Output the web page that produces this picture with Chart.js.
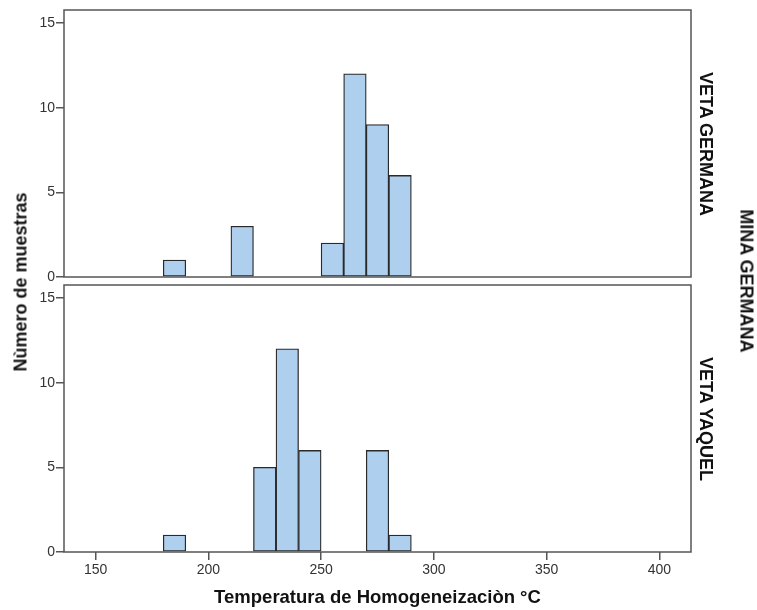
<!DOCTYPE html>
<html>
<head>
<meta charset="utf-8">
<script src="https://cdn.jsdelivr.net/npm/chart.js@4/dist/chart.umd.min.js"></script>
<style>
  html, body { margin: 0; padding: 0; background: #fff; }
  #wrap { position: relative; width: 757px; height: 610px; overflow: hidden; font-family: "Liberation Sans", Arial, sans-serif; }
  canvas { position: absolute; left: 0; }
  .lbl { position: absolute; white-space: nowrap; font-weight: bold; color: #111; transform-origin: center center; }
</style>
</head>
<body>
<div id="wrap">
  <canvas id="top" width="757" height="292" style="top:0px;width:757px;height:292px"></canvas>
  <canvas id="bot" width="757" height="335" style="top:275px;width:757px;height:335px"></canvas>
  <div class="lbl" id="ytitle" style="font-size:18px;left:21px;top:282px;transform:translate(-50%,-50%) rotate(-90deg)">Nùmero de muestras</div>
  <div class="lbl" id="p1" style="font-size:18px;left:705px;top:144px;transform:translate(-50%,-50%) rotate(90deg)">VETA GERMANA</div>
  <div class="lbl" id="p2" style="font-size:18px;left:705px;top:418.5px;transform:translate(-50%,-50%) rotate(90deg)">VETA YAQUEL</div>
  <div class="lbl" id="outer" style="font-size:18px;left:746px;top:281px;transform:translate(-50%,-50%) rotate(90deg)">MINA GERMANA</div>
</div>
<script>
// ---- data ----
const xTitle = "Temperatura de Homogeneizaciòn °C";
const panelNames = ["VETA GERMANA", "VETA YAQUEL"];
// bin midpoints (°C), bins 10 °C wide
const binMidTop = [185, 215, 255, 265, 275, 285];
const countTop  = [1, 3, 2, 12, 9, 6];
const binMidBot = [185, 225, 235, 245, 275, 285];
const countBot  = [1, 5, 12, 6, 6, 1];
const xTickValues = [150, 200, 250, 300, 350, 400];
const yTickValues = [0, 5, 10, 15];
const xRange = [136, 414];
const yRange = [0, 15.77];

const barFill = '#AECFEE';
const barLine = '#2a2a2a';
const frameColor = '#555555';
const tickColor = '#333333';

const framePlugin = {
  id: 'frame',
  afterDatasetsDraw(chart) {
    const { ctx, chartArea: a } = chart;
    ctx.save();
    ctx.strokeStyle = frameColor;
    ctx.lineWidth = 1.5;
    ctx.strokeRect(a.left, a.top, a.right - a.left, a.bottom - a.top);
    ctx.restore();
  }
};

function makeChart(id, mids, counts, showX, pad) {
  return new Chart(document.getElementById(id), {
    type: 'bar',
    data: {
      datasets: [{
        data: mids.map((m, i) => ({ x: m, y: counts[i] })),
        backgroundColor: barFill,
        borderColor: barLine,
        borderWidth: 1.3,
        borderSkipped: false,
        barPercentage: 1,
        categoryPercentage: 1
      }]
    },
    options: {
      responsive: false,
      animation: false,
      events: [],
      layout: { padding: pad },
      plugins: { legend: { display: false }, tooltip: { enabled: false }, title: { display: false } },
      scales: {
        x: {
          type: 'linear',
          min: xRange[0], max: xRange[1],
          offset: false,
          display: showX,
          afterBuildTicks: s => { s.ticks = xTickValues.map(v => ({ value: v })); },
          afterFit: s => { s.height = showX ? 58 : 0; },
          grid: { display: true, drawOnChartArea: false, drawTicks: true, tickLength: 8, color: frameColor, lineWidth: 1.5, offset: false },
          border: { display: false },
          ticks: { autoSkip: false, maxRotation: 0, padding: 2, color: tickColor, font: { family: 'Liberation Sans', size: 14 } },
          title: { display: showX, text: xTitle, color: '#111', padding: { top: 0, bottom: 1 }, font: { family: 'Liberation Sans', size: 18.5, weight: 'bold' } }
        },
        y: {
          type: 'linear',
          min: yRange[0], max: yRange[1],
          afterBuildTicks: s => { s.ticks = yTickValues.map(v => ({ value: v })); },
          afterFit: s => { s.width = 64; },
          grid: { display: true, drawOnChartArea: false, drawTicks: true, tickLength: 8, color: frameColor, lineWidth: 1.5 },
          border: { display: false },
          ticks: { padding: 1, color: tickColor, font: { family: 'Liberation Sans', size: 14 } }
        }
      }
    },
    plugins: [framePlugin]
  });
}

makeChart('top', binMidTop, countTop, false, { left: 0, top: 10, right: 66, bottom: 15 });
makeChart('bot', binMidBot, countBot, true, { left: 0, top: 10, right: 66, bottom: 0 });
</script>
</body>
</html>
